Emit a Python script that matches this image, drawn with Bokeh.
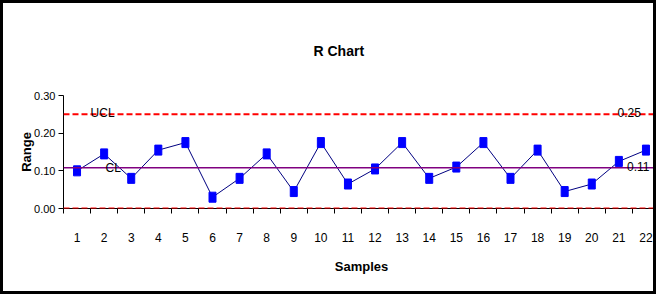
from bokeh.plotting import figure
from bokeh.models import Range1d, FixedTicker, Span, Label, PrintfTickFormatter
from bokeh.embed import file_html
from bokeh.resources import INLINE

# ---- data ----
samples = list(range(1, 23))
ranges = [0.100, 0.145, 0.080, 0.155, 0.175, 0.030, 0.080, 0.145, 0.045, 0.175, 0.065,
          0.105, 0.175, 0.080, 0.110, 0.175, 0.080, 0.155, 0.045, 0.065, 0.125, 0.155]
ucl = 0.25
cl = 0.108
lcl = 0.0
ucl_text = "0.25"
cl_text = "0.11"
y_ticks = [0.0, 0.1, 0.2, 0.3]
title_text = "R Chart"

FONT = "Liberation Sans"

W, H = 656, 294
p = figure(width=W, height=H, output_backend="svg", toolbar_location=None,
           x_range=Range1d(0.5, 22.5), y_range=Range1d(0, 0.30),
           min_border_left=60, min_border_right=0, min_border_top=92, min_border_bottom=89)
p.styles = {"border": "3px solid black"}
p.outline_line_color = None
p.grid.visible = False
p.background_fill_color = "white"
p.border_fill_color = "white"

xa = p.below[0]
ya = p.left[0]

p.title.text = title_text
p.title.align = "left"
p.title.offset = 250
p.title.standoff = 74
p.title.text_font = FONT
p.title.text_font_size = "14px"
p.title.text_font_style = "bold"
p.title.text_color = "black"

# x axis
xa.ticker = FixedTicker(ticks=samples, minor_ticks=[i + 0.5 for i in range(0, 23)])
xa.major_tick_out = 0
xa.major_tick_in = 0
xa.minor_tick_out = 5
xa.minor_tick_in = 0
xa.minor_tick_line_color = "black"
xa.axis_line_color = "black"
xa.major_label_standoff = 19
xa.major_label_text_font = FONT
xa.major_label_text_font_size = "12px"
xa.major_label_text_color = "black"
xa.axis_label = "Samples"
xa.axis_label_text_font = FONT
xa.axis_label_text_font_size = "13px"
xa.axis_label_text_font_style = "bold"
xa.axis_label_text_color = "black"
xa.axis_label_standoff = 14

# y axis
ya.ticker = FixedTicker(ticks=y_ticks)
ya.formatter = PrintfTickFormatter(format="%.2f")
ya.major_tick_out = 5
ya.major_tick_in = 0
ya.minor_tick_out = 0
ya.minor_tick_in = 0
ya.axis_line_color = "black"
ya.major_tick_line_color = "black"
ya.major_label_standoff = 3
ya.major_label_text_font = FONT
ya.major_label_text_font_size = "11px"
ya.major_label_text_color = "black"
ya.axis_label = "Range"
ya.axis_label_text_font = FONT
ya.axis_label_text_font_size = "13px"
ya.axis_label_text_font_style = "bold"
ya.axis_label_text_color = "black"
ya.axis_label_standoff = -3

# control lines
p.add_layout(Span(location=ucl, dimension="width", line_color="red", line_width=2, line_dash="6 3"))
p.add_layout(Span(location=cl, dimension="width", line_color="#800080", line_width=1.5))
p.add_layout(Span(location=lcl, dimension="width", line_color="red", line_width=2, line_dash="6 3"))

# data
p.line(samples, ranges, line_color="#000080", line_width=1)
p.rect(samples, ranges, width=7, height=10, width_units="screen", height_units="screen",
       fill_color="#0000FF", line_color="#0000FF")

# labels
for x, y, t, yo in [(1.5, ucl, "UCL", 1.5), (2.05, cl, "CL", 0), (20.95, ucl, ucl_text, 1.5), (21.3, cl, cl_text, 1)]:
    p.add_layout(Label(x=x, y=y, text=t, text_baseline="middle", text_align="left", y_offset=yo,
                       text_font=FONT, text_font_size="12px", text_color="black"))

open("out.html", "w").write(file_html(p, INLINE))
